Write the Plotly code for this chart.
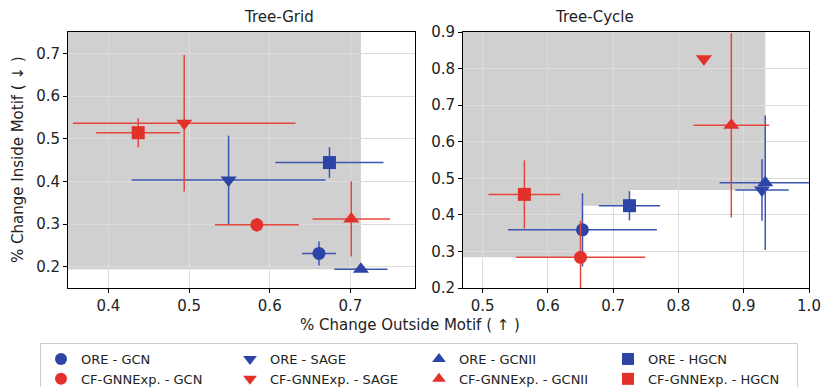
import plotly.graph_objects as go

# ---------------- data ----------------
methods = ["ORE", "CF-GNNExp."]
models = ["GCN", "SAGE", "GCNII", "HGCN"]
symbols = {"GCN": "circle", "SAGE": "triangle-down", "GCNII": "triangle-up", "HGCN": "square"}

# Tree-Grid  (x = % change outside motif, y = % change inside motif)
grid_ore_x = [0.661, 0.549, 0.713, 0.674]
grid_ore_xerr = [0.021, 0.120, 0.033, 0.067]
grid_ore_y = [0.231, 0.403, 0.194, 0.444]
grid_ore_yerr = [0.028, 0.104, 0.0, 0.036]
grid_cf_x = [0.584, 0.494, 0.701, 0.437]
grid_cf_xerr = [0.052, 0.138, 0.048, 0.052]
grid_cf_y = [0.298, 0.536, 0.312, 0.514]
grid_cf_yerr = [0.016, 0.160, 0.088, 0.034]

# Tree-Cycle
cyc_ore_x = [0.653, 0.928, 0.933, 0.725]
cyc_ore_xerr = [0.114, 0.041, 0.070, 0.047]
cyc_ore_y = [0.359, 0.468, 0.488, 0.425]
cyc_ore_yerr = [0.100, 0.084, 0.184, 0.040]
cyc_cf_x = [0.650, 0.839, 0.881, 0.564]
cyc_cf_xerr = [0.099, 0.0, 0.058, 0.055]
cyc_cf_y = [0.284, 0.827, 0.645, 0.456]
cyc_cf_yerr = [0.100, 0.0, 0.252, 0.093]

panels = ["Tree-Grid", "Tree-Cycle"]
x_ranges = [[0.35, 0.78], [0.47, 1.0]]
y_ranges = [[0.15, 0.75], [0.2, 0.9]]
x_ticks = [[0.4, 0.5, 0.6, 0.7], [0.5, 0.6, 0.7, 0.8, 0.9, 1.0]]
y_ticks = [[0.2, 0.3, 0.4, 0.5, 0.6, 0.7], [0.2, 0.3, 0.4, 0.5, 0.6, 0.7, 0.8, 0.9]]

data = [
    {"ORE": (grid_ore_x, grid_ore_xerr, grid_ore_y, grid_ore_yerr),
     "CF-GNNExp.": (grid_cf_x, grid_cf_xerr, grid_cf_y, grid_cf_yerr)},
    {"ORE": (cyc_ore_x, cyc_ore_xerr, cyc_ore_y, cyc_ore_yerr),
     "CF-GNNExp.": (cyc_cf_x, cyc_cf_xerr, cyc_cf_y, cyc_cf_yerr)},
]

colors = {"ORE": "#2b44a6", "CF-GNNExp.": "#e2312a"}
err_colors = {"ORE": "#3d55b2", "CF-GNNExp.": "#e6463a"}

FONT = "DejaVu Sans"
W, H = 821, 387

fig = go.Figure()

x_domains = [[68 / W, 415 / W], [463 / W, 809 / W]]
y_domain = [1 - 288 / H, 1 - 32 / H]

shapes = []
for p in range(2):
    xa = "x" if p == 0 else "x2"
    ya = "y" if p == 0 else "y2"
    # dominated region: union of rectangles [xmin, xi] x [yi, ymax]
    pts = []
    for m in methods:
        xs, _, ys, _ = data[p][m]
        pts += list(zip(xs, ys))
    pts.sort()
    n = len(pts)
    suf = [0] * n
    cur = 1e9
    for k in range(n - 1, -1, -1):
        cur = min(cur, pts[k][1])
        suf[k] = cur
    xlo, ytop = x_ranges[p][0], y_ranges[p][1]
    verts = [(xlo, ytop), (xlo, suf[0])]
    for k in range(n):
        verts.append((pts[k][0], suf[k]))
        verts.append((pts[k][0], suf[k + 1] if k + 1 < n else ytop))
    path = "M " + " L ".join(f"{vx},{vy}" for vx, vy in verts) + " Z"
    shapes.append(dict(type="path", path=path, xref=xa, yref=ya, layer="below",
                       fillcolor="#d0d0d0", line=dict(width=0)))

    for m in methods:
        xs, xe, ys, ye = data[p][m]
        for i, mod in enumerate(models):
            fig.add_trace(go.Scatter(
                x=[xs[i]], y=[ys[i]], mode="markers",
                name=f"{m} - {mod}",
                legendgroup=f"{m}-{mod}",
                legendrank=(0 if m == "ORE" else 100) + i,
                showlegend=(p == 0),
                marker=dict(symbol=symbols[mod], color=colors[m],
                            size=14 if "triangle" in symbols[mod] else 13,
                            line=dict(width=0)),
                error_x=dict(type="data", array=[xe[i]], color=err_colors[m],
                             thickness=1.5, width=0, visible=True),
                error_y=dict(type="data", array=[ye[i]], color=err_colors[m],
                             thickness=1.5, width=0, visible=True),
                xaxis=xa, yaxis=ya,
            ))

axis_common = dict(showline=True, linecolor="black", linewidth=1, mirror=True,
                   ticks="outside", ticklen=4, tickcolor="black",
                   showgrid=True, gridcolor="#dcdcdc", gridwidth=1.3,
                   zeroline=False, tickformat=".1f",
                   tickfont=dict(family=FONT, size=15, color="#222"))

fig.update_layout(
    width=W, height=H,
    margin=dict(l=0, r=0, t=0, b=0, autoexpand=False),
    plot_bgcolor="white", paper_bgcolor="white",
    shapes=shapes,
    xaxis=dict(domain=x_domains[0], range=x_ranges[0], tickvals=x_ticks[0], anchor="y", **axis_common),
    yaxis=dict(domain=y_domain, range=y_ranges[0], tickvals=y_ticks[0], anchor="x", **axis_common),
    xaxis2=dict(domain=x_domains[1], range=x_ranges[1], tickvals=x_ticks[1], anchor="y2", **axis_common),
    yaxis2=dict(domain=y_domain, range=y_ranges[1], tickvals=y_ticks[1], anchor="x2", **axis_common),
    legend=dict(orientation="h", x=40 / W, y=1 - 343 / H, xanchor="left", yanchor="top",
                bgcolor="white", bordercolor="#cccccc", borderwidth=1,
                entrywidth=144, entrywidthmode="pixels",
                font=dict(family=FONT, size=13, color="#222"),
                itemsizing="constant", traceorder="normal"),
    annotations=[
        dict(text=panels[0], x=sum(x_domains[0]) / 2, y=1 - 17 / H, xref="paper", yref="paper",
             showarrow=False, font=dict(family=FONT, size=15, color="#222"), yanchor="middle"),
        dict(text=panels[1], x=sum(x_domains[1]) / 2, y=1 - 17 / H, xref="paper", yref="paper",
             showarrow=False, font=dict(family=FONT, size=15, color="#222"), yanchor="middle"),
        dict(text="% Change Outside Motif ( ↑ )", x=410 / W, y=1 - 325 / H, xref="paper", yref="paper",
             showarrow=False, font=dict(family=FONT, size=15, color="#222"), yanchor="middle"),
        dict(text="% Change Inside Motif ( ↓ )", x=18 / W, y=1 - 160 / H, xref="paper", yref="paper",
             showarrow=False, textangle=-90, font=dict(family=FONT, size=15, color="#222"),
             xanchor="center", yanchor="middle"),
    ],
)

fig.write_html("out.html")
